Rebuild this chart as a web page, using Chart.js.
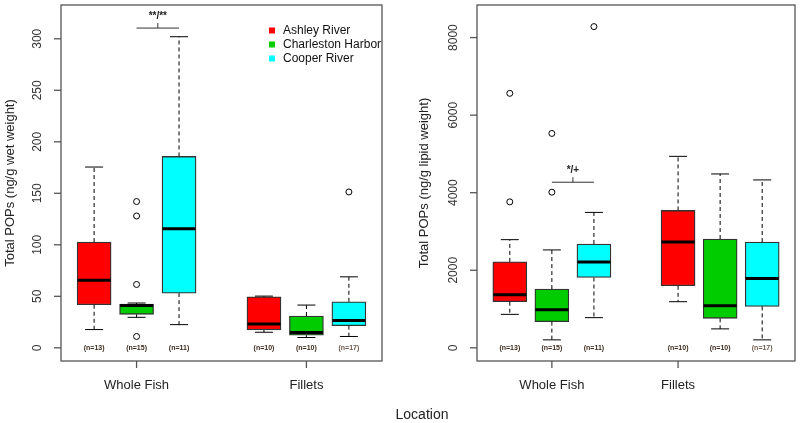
<!DOCTYPE html>
<html>
<head>
<meta charset="utf-8">
<script src="https://cdn.jsdelivr.net/npm/chart.js@4.4.1/dist/chart.umd.min.js"></script>
<style>
  body { margin: 0; background: #fff; }
  #wrap { position: relative; width: 800px; height: 423px; }
  #wrap canvas { position: absolute; top: 0; }
  #xTitle { position: absolute; left: 372px; width: 100px; top: 406px; text-align: center;
            font: 14px "Liberation Sans", Arial, sans-serif; color: #222; }
</style>
</head>
<body>
<div id="wrap">
  <div style="position:absolute;left:0;top:0;width:400px;height:423px"><canvas id="wetChart"></canvas></div>
  <div style="position:absolute;left:400px;top:0;width:400px;height:423px"><canvas id="lipidChart"></canvas></div>
  <div id="xTitle">Location</div>
</div>
<script>
// categories
const groups = ['Whole Fish', 'Fillets'];
const sites = ['Ashley River', 'Charleston Harbor', 'Cooper River'];
const siteColors = ['#ff0000', '#00cc00', '#00ffff'];
const counts = [[13, 10], [15, 10], [11, 17]];   // [site][group]

// wet weight (ng/g), [site][group]
const wetLow  = [[17.7, 15.1], [29.6, 10.0], [22.5, 11.0]];
const wetQ1   = [[41.8, 17.4], [32.5, 12.2], [53.1, 21.5]];
const wetMed  = [[65.7, 23.2], [41.0, 14.8], [115.6, 26.4]];
const wetQ3   = [[102.7, 49.6], [42.5, 30.9], [185.8, 44.7]];
const wetHigh = [[175.5, 50.2], [43.5, 41.5], [302.0, 68.9]];
const wetOut  = [[[], []], [[142, 128, 61.5, 11], []], [[], [151.3]]];
const wetTicks = [0, 50, 100, 150, 200, 250, 300];

// lipid weight (ng/g), [site][group]
const lipLow  = [[863, 1189], [205, 488], [778, 205]];
const lipQ1   = [[1189, 1600], [675, 760], [1813, 1068]];
const lipMed  = [[1368, 2729], [983, 1086], [2216, 1787]];
const lipQ3   = [[2216, 3543], [1515, 2806], [2678, 2729]];
const lipHigh = [[2789, 4937], [2524, 4483], [3492, 4329]];
const lipOut  = [[[3764, 6562], []], [[4013, 5528], []], [[8283], []]];
const lipTicks = [0, 2000, 4000, 6000, 8000];

const FONT = '"Liberation Sans", Arial, sans-serif';

function pos(s, g) { return g * 4 + s + 1; }

function buildDatasets(low, q1, med, q3, high, outs) {
  const sets = sites.map((name, s) => ({
    type: 'bar',
    label: name,
    data: groups.map((_, g) => ({ x: pos(s, g), y: [q1[s][g], q3[s][g]] })),
    stats: groups.map((_, g) => ({ lo: low[s][g], med: med[s][g], hi: high[s][g] })),
    backgroundColor: siteColors[s],
    borderColor: '#333',
    borderWidth: 1.3,
    borderSkipped: false,
    barThickness: 34,
    grouped: false
  }));
  const pts = [];
  sites.forEach((_, s) => groups.forEach((_, g) => outs[s][g].forEach(v => pts.push({ x: pos(s, g), y: v }))));
  sets.push({
    type: 'scatter',
    label: 'outliers',
    data: pts,
    pointStyle: 'circle',
    pointRadius: 3,
    borderColor: '#000',
    borderWidth: 1,
    backgroundColor: 'rgba(0,0,0,0)'
  });
  return sets;
}

// R-like axes, whiskers, medians and labels
const rPlot = {
  id: 'rPlot',
  afterDatasetsDraw(chart, args, o) {
    const ctx = chart.ctx, x = chart.scales.x, y = chart.scales.y, a = chart.chartArea;
    ctx.save();
    // whiskers, caps, medians
    chart.data.datasets.forEach(ds => {
      if (!ds.stats) return;
      ds.data.forEach((d, i) => {
        const st = ds.stats[i], cx = x.getPixelForValue(d.x);
        const yq1 = y.getPixelForValue(d.y[0]), yq3 = y.getPixelForValue(d.y[1]);
        const ylo = y.getPixelForValue(st.lo), yhi = y.getPixelForValue(st.hi);
        ctx.strokeStyle = '#000';
        ctx.lineWidth = 1;
        ctx.setLineDash([4, 3]);
        ctx.beginPath();
        ctx.moveTo(cx, yq3); ctx.lineTo(cx, yhi);
        ctx.moveTo(cx, yq1); ctx.lineTo(cx, ylo);
        ctx.stroke();
        ctx.setLineDash([]);
        ctx.beginPath();
        ctx.moveTo(cx - 9, yhi); ctx.lineTo(cx + 9, yhi);
        ctx.moveTo(cx - 9, ylo); ctx.lineTo(cx + 9, ylo);
        ctx.stroke();
        const ym = y.getPixelForValue(st.med);
        ctx.lineWidth = 3;
        ctx.beginPath();
        ctx.moveTo(cx - 16.5, ym); ctx.lineTo(cx + 16.5, ym);
        ctx.stroke();
      });
    });
    // frame
    ctx.strokeStyle = '#555';
    ctx.lineWidth = 1.3;
    ctx.strokeRect(a.left, a.top, a.right - a.left, a.bottom - a.top);
    // y ticks and rotated labels
    ctx.fillStyle = '#333';
    ctx.font = '12px ' + FONT;
    ctx.textAlign = 'center';
    ctx.textBaseline = 'middle';
    o.yTicks.forEach(v => {
      const py = y.getPixelForValue(v);
      ctx.beginPath();
      ctx.moveTo(a.left - 7, py); ctx.lineTo(a.left, py);
      ctx.stroke();
      ctx.save();
      ctx.translate(a.left - 23, py);
      ctx.rotate(-Math.PI / 2);
      ctx.fillText(String(v), 0, 0);
      ctx.restore();
    });
    // x ticks and group labels
    ctx.font = '13px ' + FONT;
    ctx.fillStyle = '#222';
    o.xTicks.forEach((v, i) => {
      const px = x.getPixelForValue(v);
      ctx.beginPath();
      ctx.moveTo(px, a.bottom); ctx.lineTo(px, a.bottom + 7);
      ctx.stroke();
      ctx.fillText(groups[i], px, a.bottom + 24);
    });
    // y title
    ctx.save();
    ctx.translate(o.titleX, (a.top + a.bottom) / 2);
    ctx.rotate(-Math.PI / 2);
    ctx.fillText(o.yTitle, 0, 0);
    ctx.restore();
    // sample sizes
    ctx.font = 'bold 7px ' + FONT;
    sites.forEach((_, s) => groups.forEach((_, g) => {
      ctx.fillStyle = (s === 2 && g === 1) ? '#6b5a4a' : '#3b2a1a';
      ctx.fillText('(n=' + counts[s][g] + ')', x.getPixelForValue(pos(s, g)), y.getPixelForValue(0));
    }));
    // significance bracket
    const b = o.bracket;
    const bx1 = x.getPixelForValue(b.from), bx2 = x.getPixelForValue(b.to), by = y.getPixelForValue(b.value);
    const bm = (bx1 + bx2) / 2;
    ctx.strokeStyle = '#333';
    ctx.lineWidth = 1;
    ctx.beginPath();
    ctx.moveTo(bx1, by); ctx.lineTo(bx2, by);
    ctx.moveTo(bm, by); ctx.lineTo(bm, by - 5);
    ctx.stroke();
    ctx.fillStyle = '#222';
    ctx.font = 'bold 10px ' + FONT;
    ctx.fillText(b.text, bm, by - 12);
    // legend
    if (o.legend) {
      ctx.font = '12px ' + FONT;
      ctx.textAlign = 'left';
      sites.forEach((name, s) => {
        const ly = 30.5 + s * 14;
        ctx.fillStyle = siteColors[s];
        ctx.fillRect(o.legend.x - 3, ly - 3, 6, 6);
        ctx.fillStyle = '#111';
        ctx.fillText(name, o.legend.x + 11, ly);
      });
    }
    ctx.restore();
  }
};

function makeChart(id, datasets, yMin, yMax, pad, extra) {
  return new Chart(document.getElementById(id), {
    type: 'bar',
    data: { datasets: datasets },
    options: {
      responsive: true,
      maintainAspectRatio: false,
      animation: false,
      layout: { padding: pad },
      scales: {
        x: { type: 'linear', min: 0.22, max: 7.78, offset: false, display: false },
        y: { type: 'linear', min: yMin, max: yMax, display: false }
      },
      plugins: {
        legend: { display: false },
        tooltip: { enabled: false },
        rPlot: extra
      }
    },
    plugins: [rPlot]
  });
}

makeChart('wetChart',
  buildDatasets(wetLow, wetQ1, wetMed, wetQ3, wetHigh, wetOut),
  -12.8, 332.8,
  { left: 61, right: 18, top: 3, bottom: 62 },
  {
    yTicks: wetTicks, xTicks: [2, 6], yTitle: 'Total POPs (ng/g wet weight)', titleX: 10,
    bracket: { from: 2, to: 3, value: 310.4, text: '**/**' },
    legend: { x: 272 }
  });

makeChart('lipidChart',
  buildDatasets(lipLow, lipQ1, lipMed, lipQ3, lipHigh, lipOut),
  -340, 8840,
  { left: 77, right: 3, top: 3, bottom: 62 },
  {
    yTicks: lipTicks, xTicks: [2, 5], yTitle: 'Total POPs (ng/g lipid weight)', titleX: 24,
    bracket: { from: 2, to: 3, value: 4270, text: '*/+' },
    legend: null
  });
</script>
</body>
</html>
